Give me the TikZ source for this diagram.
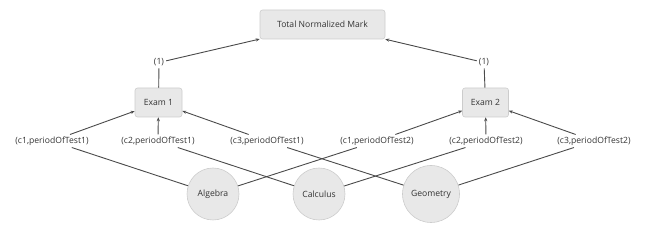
\documentclass[tikz,border=0pt]{standalone}
\usepackage{fontspec}
\setmainfont{Open Sans}
\usetikzlibrary{arrows.meta}
\definecolor{boxfill}{HTML}{E8E8E8}
\definecolor{boxline}{HTML}{CCCCCC}
\definecolor{edgecol}{HTML}{4A4A4A}
\definecolor{txt}{HTML}{333333}
\begin{document}
\begin{tikzpicture}[x=1pt,y=-1pt,
  every node/.style={font=\fontsize{8.6}{10}\selectfont, text=txt},
  box/.style={draw=boxline, fill=boxfill, rounded corners=2.5pt, line width=0.6pt,
    minimum height=29pt, inner sep=0pt},
  topic/.style={circle, draw=boxline, fill=boxfill, line width=0.6pt, inner sep=0pt},
  lbl/.style={inner sep=2pt},
  link/.style={draw=edgecol, line width=0.9pt},
  feed/.style={link, -{Stealth[length=4pt,width=3.2pt]}},
]
\useasboundingbox (0,0) rectangle (646,240);

% aggregate nodes
\node[box, minimum width=125pt] (total) at (322.5,24.5) {Total Normalized Mark};
\node[box, minimum width=47pt] (exam1) at (158.5,102.5) {Exam 1};
\node[box, minimum width=46pt] (exam2) at (485.5,102.5) {Exam 2};

% weights
\node[lbl] (w1) at (159,62.5) {(1)};
\node[lbl] (w2) at (484,62.5) {(1)};

% course/period labels
\node[lbl] (a1) at (52,141) {(c1,periodOfTest1)};
\node[lbl] (b1) at (158,141) {(c2,periodOfTest1)};
\node[lbl] (g1) at (267,141) {(c3,periodOfTest1)};
\node[lbl] (a2) at (377,141) {(c1,periodOfTest2)};
\node[lbl] (b2) at (486,141) {(c2,periodOfTest2)};
\node[lbl] (g2) at (594,141) {(c3,periodOfTest2)};

% courses
\node[topic, minimum size=52pt] (alg) at (213,194) {Algebra};
\node[topic, minimum size=52pt] (cal) at (319,194) {Calculus};
\node[topic, minimum size=57pt] (geo) at (431,194) {Geometry};

% exams into the total
\draw[link] (exam1) -- (w1);
\draw[feed] (w1) -- (total);
\draw[link] (exam2) -- (w2);
\draw[feed] (w2) -- (total);

% course marks into exams
\draw[feed] (a1) -- (exam1);
\draw[feed] (b1) -- (exam1);
\draw[feed] (g1) -- (exam1);
\draw[feed] (a2) -- (exam2);
\draw[feed] (b2) -- (exam2);
\draw[feed] (g2) -- (exam2);

% courses to their labels
\draw[link] (alg) -- (a1);
\draw[link] (alg) -- (a2);
\draw[link] (cal) -- (b1);
\draw[link] (cal) -- (b2);
\draw[link] (geo) -- (g1);
\draw[link] (geo) -- (g2);
\end{tikzpicture}
\end{document}
